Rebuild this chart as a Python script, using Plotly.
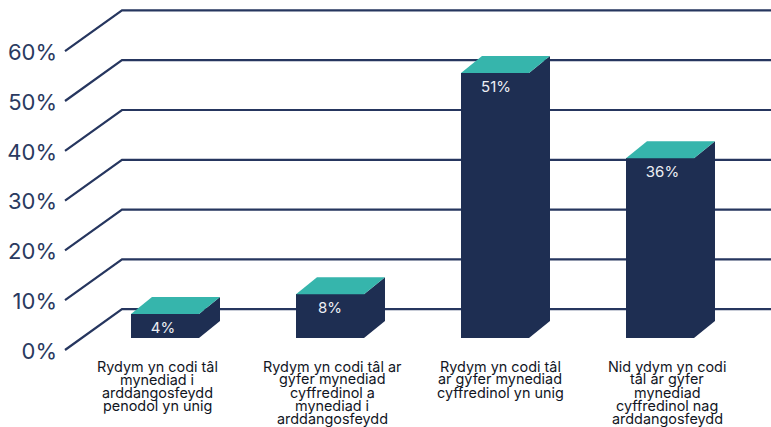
import plotly.graph_objects as go

# Data
categories = [
    ["Rydym yn codi tâl", "mynediad i", "arddangosfeydd", "penodol yn unig"],
    ["Rydym yn codi tâl ar", "gyfer mynediad", "cyffredinol a", "mynediad i", "arddangosfeydd"],
    ["Rydym yn codi tâl", "ar gyfer mynediad", "cyffredinol yn unig"],
    ["Nid ydym yn codi", "tâl ar gyfer", "mynediad", "cyffredinol nag", "arddangosfeydd"],
]
bar_heights = [4.8, 8.8, 53.2, 36.1]
bar_labels = ["4%", "8%", "51%", "36%"]
tick_values = [0, 10, 20, 30, 40, 50, 60]
tick_labels = ["0%", "10%", "20%", "30%", "40%", "50%", "60%"]

# Style and layout
NAVY = "#1E2E52"
TEAL = "#36B5AC"
GRID = "#26365F"
W, H = 771, 427
LEFT = 58
PX_X = 165.0            # px per category
PX_Y = 4.98             # px per 1 %
X0_PX, Y0_PX = 165, 350 # px of category 0 centre / front 0 %
x_range = [(LEFT - X0_PX) / PX_X, (W - X0_PX) / PX_X]
y_range = [(Y0_PX - H) / PX_Y, Y0_PX / PX_Y]
ux = lambda px: px / PX_X
uy = lambda px: px / PX_Y

bar_w = ux(68)
bar_base = uy(12)
bar_dx, bar_dy = ux(21), uy(17)
wall_dx, wall_dy = ux(57), uy(40.8)
front_x = ux(65 - X0_PX)
xs = list(range(len(bar_heights)))

fig = go.Figure()

# Front faces
fig.add_trace(go.Bar(
    x=xs, y=bar_heights, base=[bar_base] * len(xs), width=bar_w,
    marker=dict(color=NAVY, line=dict(width=0)), hoverinfo="skip",
))

# Side and top faces
for x, h in zip(xs, bar_heights):
    r = x + bar_w / 2
    l = x - bar_w / 2
    top = bar_base + h
    fig.add_trace(go.Scatter(
        x=[r, r + bar_dx, r + bar_dx, r, r],
        y=[bar_base, bar_base + bar_dy, top + bar_dy, top, bar_base],
        mode="lines", fill="toself", fillcolor=NAVY, line=dict(width=0), hoverinfo="skip",
    ))
    fig.add_trace(go.Scatter(
        x=[l, r, r + bar_dx, l + bar_dx, l],
        y=[top, top, top + bar_dy, top + bar_dy, top],
        mode="lines", fill="toself", fillcolor=TEAL, line=dict(width=0), hoverinfo="skip",
    ))

# Value labels
value_dx = [-2, 0, 1, 2.5]
fig.add_trace(go.Scatter(
    x=[x + ux(d) for x, d in zip(xs, value_dx)],
    y=[bar_base + h - uy(15.5) for h in bar_heights],
    mode="text", text=bar_labels, textposition="middle center",
    textfont=dict(family="Inter", size=15, color="#EDEFF4"), hoverinfo="skip",
))

# Gridlines: front edge, back wall
shapes = []
for t in tick_values:
    xa, xb = front_x, front_x + wall_dx
    path = f"M {xa} {t} L {xb} {t + wall_dy} L {x_range[1]} {t + wall_dy}"
    shapes.append(dict(type="path", path=path, layer="below",
                       line=dict(color=GRID, width=2.2), xref="x", yref="y"))

# Category labels, one annotation per line for the tight leading
label_dx = [-8, 2, 5, 7]
annotations = []
for x, lines, d in zip(xs, categories, label_dx):
    for i, line in enumerate(lines):
        annotations.append(dict(
            x=x + ux(d), y=-uy(16.3 + 13.1 * i), xref="x", yref="y", text=line, showarrow=False,
            xanchor="center", yanchor="middle",
            font=dict(family="Inter", size=14.4, color="#12161F"),
        ))

fig.update_layout(
    width=W, height=H, showlegend=False, bargap=0,
    margin=dict(l=LEFT, r=0, t=0, b=0),
    paper_bgcolor="white", plot_bgcolor="white",
    shapes=shapes, annotations=annotations,
    xaxis=dict(range=x_range, visible=False, fixedrange=True),
    yaxis=dict(range=y_range, tickmode="array", tickvals=tick_values, ticktext=tick_labels,
               showgrid=False, zeroline=False, showline=False, ticks="", fixedrange=True,
               ticklabelshift=1,
               tickfont=dict(family="Inter", size=22, color="#2A3A60"), automargin=False),
)
fig.write_html("out.html", config={"displayModeBar": False},
               post_script="document.body.style.margin='0';document.documentElement.style.overflow='hidden';")
